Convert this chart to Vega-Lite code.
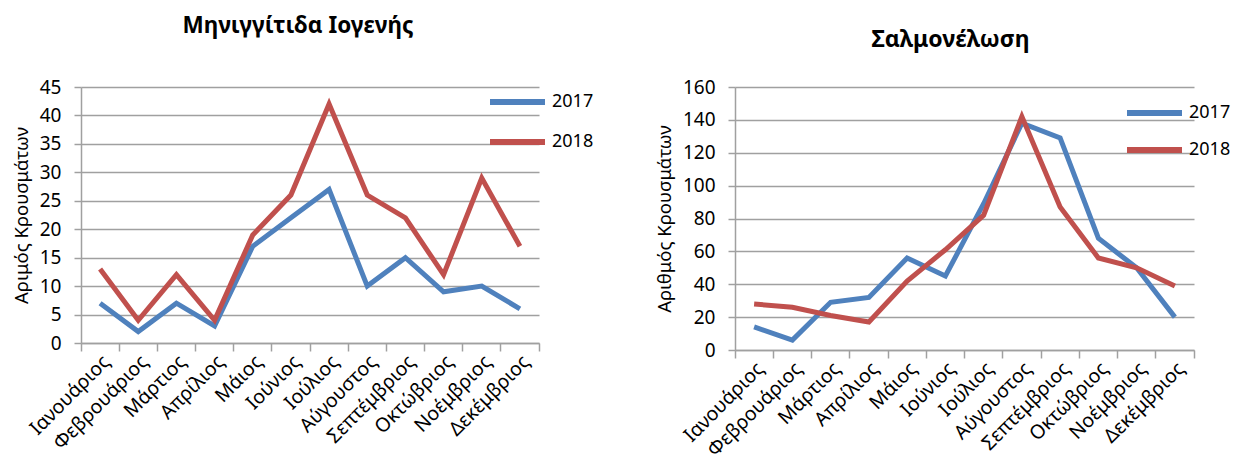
{
  "$schema": "https://vega.github.io/schema/vega-lite/v6.json",
  "background": "white",
  "padding": {"left": 12, "top": 15, "right": 5, "bottom": 0},
  "config": {
    "font": "Noto Sans",
    "view": {"stroke": null},
    "axis": {"labelColor": "#000", "titleColor": "#000", "domainColor": "#a0a0a0", "tickColor": "#a0a0a0", "gridColor": "#a0a0a0", "domainWidth": 1.5, "tickWidth": 1.5, "gridWidth": 1.5, "labelOverlap": false},
    "legend": {"labelColor": "#000"},
    "title": {"color": "#000"}
  },
  "datasets": {
    "men": [
      {"month": "Ιανουάριος", "series": "2017", "value": 7},
      {"month": "Φεβρουάριος", "series": "2017", "value": 2},
      {"month": "Μάρτιος", "series": "2017", "value": 7},
      {"month": "Απρίλιος", "series": "2017", "value": 3},
      {"month": "Μάιος", "series": "2017", "value": 17},
      {"month": "Ιούνιος", "series": "2017", "value": 22},
      {"month": "Ιούλιος", "series": "2017", "value": 27},
      {"month": "Αύγουστος", "series": "2017", "value": 10},
      {"month": "Σεπτέμβριος", "series": "2017", "value": 15},
      {"month": "Οκτώβριος", "series": "2017", "value": 9},
      {"month": "Νοέμβριος", "series": "2017", "value": 10},
      {"month": "Δεκέμβριος", "series": "2017", "value": 6},
      {"month": "Ιανουάριος", "series": "2018", "value": 13},
      {"month": "Φεβρουάριος", "series": "2018", "value": 4},
      {"month": "Μάρτιος", "series": "2018", "value": 12},
      {"month": "Απρίλιος", "series": "2018", "value": 4},
      {"month": "Μάιος", "series": "2018", "value": 19},
      {"month": "Ιούνιος", "series": "2018", "value": 26},
      {"month": "Ιούλιος", "series": "2018", "value": 42},
      {"month": "Αύγουστος", "series": "2018", "value": 26},
      {"month": "Σεπτέμβριος", "series": "2018", "value": 22},
      {"month": "Οκτώβριος", "series": "2018", "value": 12},
      {"month": "Νοέμβριος", "series": "2018", "value": 29},
      {"month": "Δεκέμβριος", "series": "2018", "value": 17}
    ],
    "sal": [
      {"month": "Ιανουάριος", "series": "2017", "value": 14},
      {"month": "Φεβρουάριος", "series": "2017", "value": 6},
      {"month": "Μάρτιος", "series": "2017", "value": 29},
      {"month": "Απρίλιος", "series": "2017", "value": 32},
      {"month": "Μάιος", "series": "2017", "value": 56},
      {"month": "Ιούνιος", "series": "2017", "value": 45},
      {"month": "Ιούλιος", "series": "2017", "value": 89},
      {"month": "Αύγουστος", "series": "2017", "value": 138},
      {"month": "Σεπτέμβριος", "series": "2017", "value": 129},
      {"month": "Οκτώβριος", "series": "2017", "value": 68},
      {"month": "Νοέμβριος", "series": "2017", "value": 50},
      {"month": "Δεκέμβριος", "series": "2017", "value": 20},
      {"month": "Ιανουάριος", "series": "2018", "value": 28},
      {"month": "Φεβρουάριος", "series": "2018", "value": 26},
      {"month": "Μάρτιος", "series": "2018", "value": 21},
      {"month": "Απρίλιος", "series": "2018", "value": 17},
      {"month": "Μάιος", "series": "2018", "value": 42},
      {"month": "Ιούνιος", "series": "2018", "value": 61},
      {"month": "Ιούλιος", "series": "2018", "value": 82},
      {"month": "Αύγουστος", "series": "2018", "value": 142},
      {"month": "Σεπτέμβριος", "series": "2018", "value": 87},
      {"month": "Οκτώβριος", "series": "2018", "value": 56},
      {"month": "Νοέμβριος", "series": "2018", "value": 50},
      {"month": "Δεκέμβριος", "series": "2018", "value": 39}
    ]
  },
  "spacing": 61,
  "resolve": {"scale": {"color": "independent", "x": "independent", "y": "independent"}, "legend": {"color": "independent"}},
  "hconcat": [
    {
      "title": {"text": "Μηνιγγίτιδα Ιογενής", "fontSize": 22.5, "fontWeight": "bold", "frame": "group", "dx": -12, "offset": 40.5},
      "width": 458,
      "height": 256,
      "data": {"name": "men"},
      "resolve": {"axis": {"x": "independent"}},
      "layer": [
        {
          "mark": {"type": "line", "strokeWidth": 5},
          "encoding": {
            "x": {"field": "month", "type": "nominal", "sort": ["Ιανουάριος", "Φεβρουάριος", "Μάρτιος", "Απρίλιος", "Μάιος", "Ιούνιος", "Ιούλιος", "Αύγουστος", "Σεπτέμβριος", "Οκτώβριος", "Νοέμβριος", "Δεκέμβριος"], "bandPosition": 0.5,
              "scale": {"type": "band", "paddingInner": 0, "paddingOuter": 0},
              "axis": {"title": null, "orient": "bottom", "labelAngle": -45, "labelAlign": "right", "labelBaseline": "top", "bandPosition": 0.5, "labelFontSize": 19.5, "ticks": false, "labelPadding": 9, "grid": false}},
            "y": {"field": "value", "type": "quantitative", "scale": {"domain": [0, 45]},
              "axis": {"title": "Αριμός Κρουσμάτων", "values": [0, 5, 10, 15, 20, 25, 30, 35, 40, 45], "labelFontSize": 19, "titleFontSize": 18.5, "titleFontWeight": "normal", "tickSize": 7, "labelPadding": 13, "titlePadding": 8}},
            "color": {"field": "series", "type": "nominal", "scale": {"domain": ["2017", "2018"], "range": ["#4f81bd", "#c0504d"]},
              "legend": {"title": null, "orient": "none", "legendX": 422.5, "legendY": 1, "symbolType": "M-2.5,0H2.5", "symbolSize": 484, "symbolStrokeWidth": 6, "labelFontSize": 18, "rowPadding": 14, "labelOffset": 20.5}}
          }
        },
        {
          "mark": {"type": "line", "opacity": 0},
          "encoding": {
            "x": {"field": "month", "type": "nominal", "sort": ["Ιανουάριος", "Φεβρουάριος", "Μάρτιος", "Απρίλιος", "Μάιος", "Ιούνιος", "Ιούλιος", "Αύγουστος", "Σεπτέμβριος", "Οκτώβριος", "Νοέμβριος", "Δεκέμβριος"], "bandPosition": 0.5,
              "axis": {"title": null, "orient": "bottom", "bandPosition": 0, "labels": false, "domain": false, "tickSize": 8, "grid": false}},
            "y": {"field": "value", "type": "quantitative", "scale": {"domain": [0, 45]},
              "axis": {"title": "Αριμός Κρουσμάτων", "values": [0, 5, 10, 15, 20, 25, 30, 35, 40, 45], "labelFontSize": 19, "titleFontSize": 18.5, "titleFontWeight": "normal", "tickSize": 7, "labelPadding": 13, "titlePadding": 8}},
            "detail": {"field": "series"}
          }
        },
        {
          "mark": {"type": "line", "opacity": 0},
          "encoding": {
            "x": {"field": "month", "type": "nominal", "sort": ["Ιανουάριος", "Φεβρουάριος", "Μάρτιος", "Απρίλιος", "Μάιος", "Ιούνιος", "Ιούλιος", "Αύγουστος", "Σεπτέμβριος", "Οκτώβριος", "Νοέμβριος", "Δεκέμβριος"], "bandPosition": 0.5,
              "axis": {"title": null, "orient": "bottom", "bandPosition": 1, "values": ["Δεκέμβριος"], "labels": false, "domain": false, "tickSize": 8, "grid": false}},
            "y": {"field": "value", "type": "quantitative", "scale": {"domain": [0, 45]},
              "axis": {"title": "Αριμός Κρουσμάτων", "values": [0, 5, 10, 15, 20, 25, 30, 35, 40, 45], "labelFontSize": 19, "titleFontSize": 18.5, "titleFontWeight": "normal", "tickSize": 7, "labelPadding": 13, "titlePadding": 8}},
            "detail": {"field": "series"}
          }
        }
      ]
    },
    {
      "title": {"text": "Σαλμονέλωση", "fontSize": 23, "fontWeight": "bold", "frame": "group", "dx": -14, "offset": 26},
      "width": 459,
      "height": 263,
      "data": {"name": "sal"},
      "resolve": {"axis": {"x": "independent"}},
      "layer": [
        {
          "mark": {"type": "line", "strokeWidth": 5},
          "encoding": {
            "x": {"field": "month", "type": "nominal", "sort": ["Ιανουάριος", "Φεβρουάριος", "Μάρτιος", "Απρίλιος", "Μάιος", "Ιούνιος", "Ιούλιος", "Αύγουστος", "Σεπτέμβριος", "Οκτώβριος", "Νοέμβριος", "Δεκέμβριος"], "bandPosition": 0.5,
              "scale": {"type": "band", "paddingInner": 0, "paddingOuter": 0},
              "axis": {"title": null, "orient": "bottom", "labelAngle": -45, "labelAlign": "right", "labelBaseline": "top", "bandPosition": 0.5, "labelFontSize": 19.5, "ticks": false, "labelPadding": 9, "grid": false}},
            "y": {"field": "value", "type": "quantitative", "scale": {"domain": [0, 160]},
              "axis": {"title": "Αριθμός Κρουσμάτων", "values": [0, 20, 40, 60, 80, 100, 120, 140, 160], "labelFontSize": 19, "titleFontSize": 18.5, "titleFontWeight": "normal", "tickSize": 7, "labelPadding": 13, "titlePadding": 8}},
            "color": {"field": "series", "type": "nominal", "scale": {"domain": ["2017", "2018"], "range": ["#4f81bd", "#c0504d"]},
              "legend": {"title": null, "orient": "none", "legendX": 405.5, "legendY": 12, "symbolType": "M-2.5,0H2.5", "symbolSize": 484, "symbolStrokeWidth": 6, "labelFontSize": 18, "rowPadding": 11, "labelOffset": 20.5}}
          }
        },
        {
          "mark": {"type": "line", "opacity": 0},
          "encoding": {
            "x": {"field": "month", "type": "nominal", "sort": ["Ιανουάριος", "Φεβρουάριος", "Μάρτιος", "Απρίλιος", "Μάιος", "Ιούνιος", "Ιούλιος", "Αύγουστος", "Σεπτέμβριος", "Οκτώβριος", "Νοέμβριος", "Δεκέμβριος"], "bandPosition": 0.5,
              "axis": {"title": null, "orient": "bottom", "bandPosition": 0, "labels": false, "domain": false, "tickSize": 8, "grid": false}},
            "y": {"field": "value", "type": "quantitative", "scale": {"domain": [0, 160]},
              "axis": {"title": "Αριθμός Κρουσμάτων", "values": [0, 20, 40, 60, 80, 100, 120, 140, 160], "labelFontSize": 19, "titleFontSize": 18.5, "titleFontWeight": "normal", "tickSize": 7, "labelPadding": 13, "titlePadding": 8}},
            "detail": {"field": "series"}
          }
        },
        {
          "mark": {"type": "line", "opacity": 0},
          "encoding": {
            "x": {"field": "month", "type": "nominal", "sort": ["Ιανουάριος", "Φεβρουάριος", "Μάρτιος", "Απρίλιος", "Μάιος", "Ιούνιος", "Ιούλιος", "Αύγουστος", "Σεπτέμβριος", "Οκτώβριος", "Νοέμβριος", "Δεκέμβριος"], "bandPosition": 0.5,
              "axis": {"title": null, "orient": "bottom", "bandPosition": 1, "values": ["Δεκέμβριος"], "labels": false, "domain": false, "tickSize": 8, "grid": false}},
            "y": {"field": "value", "type": "quantitative", "scale": {"domain": [0, 160]},
              "axis": {"title": "Αριθμός Κρουσμάτων", "values": [0, 20, 40, 60, 80, 100, 120, 140, 160], "labelFontSize": 19, "titleFontSize": 18.5, "titleFontWeight": "normal", "tickSize": 7, "labelPadding": 13, "titlePadding": 8}},
            "detail": {"field": "series"}
          }
        }
      ]
    }
  ]
}
